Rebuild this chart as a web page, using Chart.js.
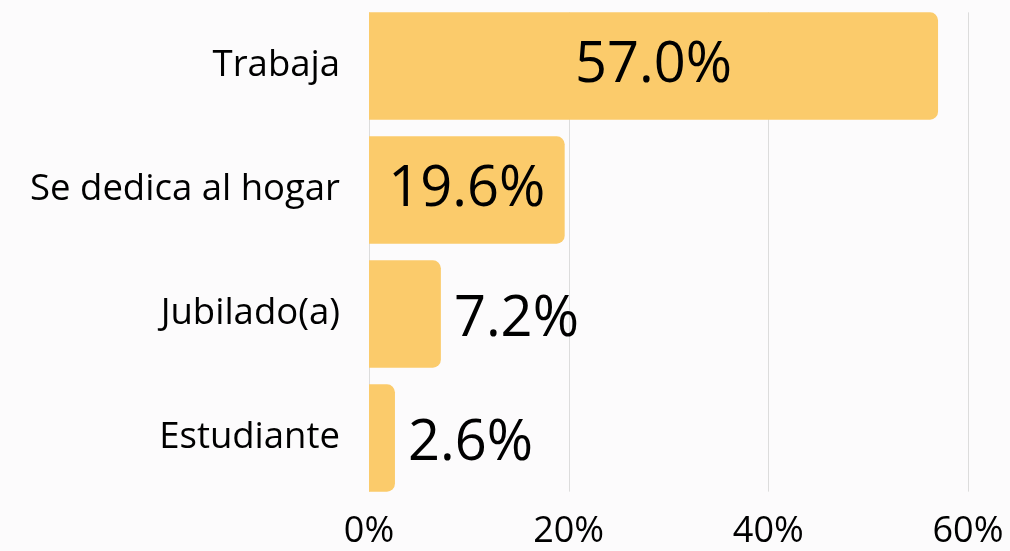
<!DOCTYPE html>
<html>
<head>
<meta charset="utf-8">
<script src="https://cdn.jsdelivr.net/npm/chart.js@4"></script>
<style>
  html, body { margin: 0; padding: 0; background: #fcfbfc; }
  #wrap { width: 1010px; height: 551px; }
</style>
</head>
<body>
<div id="wrap"><canvas id="bar-chart" width="1010" height="551"></canvas></div>
<script>
var categories = ['Trabaja', 'Se dedica al hogar', 'Jubilado(a)', 'Estudiante']
var shares = [57.0, 19.6, 7.2, 2.6]
var tickValues = [0, 20, 40, 60]

var barColor = '#fbcb6b'
var gridColor = '#dcdcdc'
var fontName = "'Open Sans', 'Noto Sans', sans-serif"

// vertical grid lines that only span from the first bar top to the last bar bottom
var shortGrid = {
    id: 'shortGrid',
    beforeDatasetsDraw: function(chart) {
        var ctx = chart.ctx
        var bars = chart.getDatasetMeta(0).data
        var top = bars[0].y - bars[0].height / 2
        var bottom = bars[bars.length - 1].y + bars[bars.length - 1].height / 2
        var xs = chart.scales.x
        ctx.save()
        ctx.strokeStyle = gridColor
        ctx.lineWidth = 1
        tickValues.forEach(function(v) {
            var px = Math.round(xs.getPixelForValue(v)) + 0.5
            ctx.beginPath()
            ctx.moveTo(px, top)
            ctx.lineTo(px, bottom)
            ctx.stroke()
        })
        ctx.restore()
    }
}

// value labels: inside the bar when it is wide enough, outside otherwise
var valueLabels = {
    id: 'valueLabels',
    afterDatasetsDraw: function(chart) {
        var ctx = chart.ctx
        var meta = chart.getDatasetMeta(0)
        ctx.save()
        ctx.font = '56px ' + fontName
        ctx.fillStyle = '#000'
        ctx.textBaseline = 'middle'
        meta.data.forEach(function(bar, i) {
            var txt = shares[i].toFixed(1) + '%'
            var w = ctx.measureText(txt).width
            if (bar.x - bar.base > w + 30) {
                ctx.textAlign = 'center'
                ctx.fillText(txt, (bar.x + bar.base) / 2, bar.y)
            } else {
                ctx.textAlign = 'left'
                ctx.fillText(txt, bar.x + 13, bar.y + 6)
            }
        })
        ctx.restore()
    }
}

var ctx = document.getElementById('bar-chart').getContext('2d')
var chart = new Chart(ctx, {
    type: 'bar',
    data: {
        labels: categories,
        datasets: [{
            data: shares,
            backgroundColor: barColor,
            borderWidth: 0,
            borderRadius: { topRight: 8, bottomRight: 8, topLeft: 0, bottomLeft: 0 },
            borderSkipped: false,
            barPercentage: 0.865,
            categoryPercentage: 1
        }]
    },
    options: {
        indexAxis: 'y',
        responsive: false,
        animation: false,
        layout: { padding: { top: 4, right: 42, left: 0, bottom: 0 } },
        plugins: {
            legend: { display: false },
            tooltip: { enabled: false }
        },
        scales: {
            x: {
                min: 0,
                max: 60,
                afterBuildTicks: function(scale) {
                    scale.ticks = tickValues.map(v => ({ value: v }))
                },
                afterFit: function(scale) {
                    scale.height = 51
                    scale.paddingLeft = 0
                    scale.paddingRight = 0
                },
                grid: { display: false, drawTicks: false },
                border: { display: false },
                ticks: {
                    padding: 10,
                    color: '#000',
                    font: { family: fontName, size: 36 },
                    callback: v => v + '%'
                }
            },
            y: {
                afterFit: function(scale) {
                    scale.width = 369
                    scale.paddingTop = 0
                    scale.paddingBottom = 0
                },
                grid: { display: false, drawTicks: false },
                border: { display: false },
                ticks: {
                    padding: 29,
                    color: '#000',
                    font: { family: fontName, size: 36.5 }
                }
            }
        }
    },
    plugins: [shortGrid, valueLabels]
})
</script>
</body>
</html>
